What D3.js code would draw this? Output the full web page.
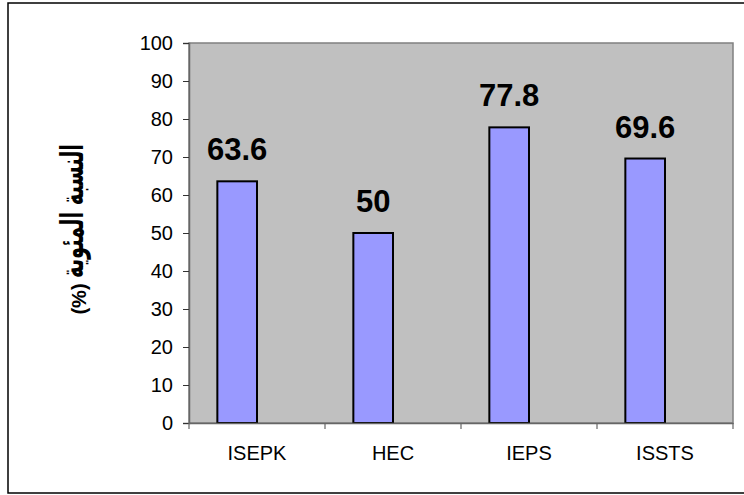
<!DOCTYPE html>
<html>
<head>
<meta charset="utf-8">
<script src="https://cdn.jsdelivr.net/npm/d3@7"></script>
<style>
  html, body { margin: 0; padding: 0; background: #fff; }
  svg { display: block; }
  text { font-family: "Liberation Sans", Arial, "DejaVu Sans", sans-serif; }
</style>
</head>
<body>
<svg id="chart" width="744" height="495"></svg>
<script>
const categories = ["ISEPK", "HEC", "IEPS", "ISSTS"];
const values = [63.6, 50, 77.8, 69.6];
const yTicks = [0, 10, 20, 30, 40, 50, 60, 70, 80, 90, 100];
const series = ["s1", "s2"];
const yTitleMain = "النسبة المئوية";
const yTitleUnit = "(%)";

const svg = d3.select("#chart");
const plot = { left: 189, right: 733, top: 43, bottom: 423 };

// outer border
svg.append("rect")
  .attr("x", 8).attr("y", 3).attr("width", 745).attr("height", 490)
  .attr("fill", "#fff").attr("stroke", "#000").attr("stroke-width", 1.5);

const x = d3.scaleBand().domain(categories).range([plot.left, plot.right]).paddingInner(0).paddingOuter(0);
const xs = d3.scaleBand().domain(series).range([0, x.bandwidth()]).paddingInner(0).paddingOuter(0.715);
const y = d3.scaleLinear().domain([0, 100]).range([plot.bottom, plot.top]);

// plot area
svg.append("rect")
  .attr("x", plot.left).attr("y", plot.top)
  .attr("width", plot.right - plot.left).attr("height", plot.bottom - plot.top)
  .attr("fill", "#C0C0C0").attr("stroke", "#808080").attr("stroke-width", 1.5);

// bars
svg.append("g").selectAll("rect").data(values).join("rect")
  .attr("x", (d, i) => x(categories[i]) + xs("s1"))
  .attr("y", d => y(d))
  .attr("width", xs.bandwidth())
  .attr("height", d => y(0) - y(d))
  .attr("fill", "#9999FF").attr("stroke", "#000").attr("stroke-width", 2);

// data labels
svg.append("g").selectAll("text").data(values).join("text")
  .attr("x", (d, i) => x(categories[i]) + xs("s1") + xs.bandwidth() / 2)
  .attr("y", d => y(d) - 21)
  .attr("text-anchor", "middle")
  .attr("font-size", 31).attr("font-weight", "bold").attr("fill", "#000")
  .text(d => d);

// y axis
const yAxis = d3.axisLeft(y).tickValues(yTicks).tickSize(6).tickPadding(10).tickFormat(d3.format("d"));
const gy = svg.append("g").attr("transform", `translate(${plot.left},0)`).call(yAxis);
gy.select(".domain").attr("stroke", "#666").attr("stroke-width", 1.5);
gy.selectAll(".tick line").attr("stroke", "#333");
gy.selectAll(".tick text").attr("font-size", 20).attr("fill", "#000")
  .style("font-family", '"Liberation Sans", Arial, sans-serif');

// x axis (boundary ticks)
const xAxis = d3.axisBottom(x).tickSize(0).tickPadding(23);
const gx = svg.append("g").attr("transform", `translate(0,${plot.bottom})`).call(xAxis);
gx.select(".domain").attr("stroke", "#666").attr("stroke-width", 1.5);
gx.selectAll(".tick text").attr("font-size", 20).attr("fill", "#000")
  .style("font-family", '"Liberation Sans", Arial, sans-serif');
const bounds = categories.map(c => x(c)).concat([plot.right]);
svg.append("g").selectAll("line").data(bounds).join("line")
  .attr("x1", d => d).attr("x2", d => d)
  .attr("y1", plot.bottom).attr("y2", plot.bottom + 6)
  .attr("stroke", "#666").attr("stroke-width", 1.2);

// y title (Arabic part + unit)
svg.append("text")
  .attr("transform", "translate(74,211) rotate(-90)")
  .attr("text-anchor", "middle")
  .attr("dominant-baseline", "middle")
  .attr("direction", "rtl")
  .attr("font-size", 32).attr("font-weight", "bold").attr("fill", "#000")
  .attr("textLength", 134).attr("lengthAdjust", "spacingAndGlyphs")
  .style("font-family", '"DejaVu Sans", sans-serif')
  .text(yTitleMain);
svg.append("text")
  .attr("transform", "translate(81,299) rotate(-90)")
  .attr("text-anchor", "middle")
  .attr("dominant-baseline", "middle")
  .attr("font-size", 20).attr("font-weight", "bold").attr("fill", "#000")
  .style("font-family", '"Liberation Sans", Arial, sans-serif')
  .text(yTitleUnit);
</script>
</body>
</html>
